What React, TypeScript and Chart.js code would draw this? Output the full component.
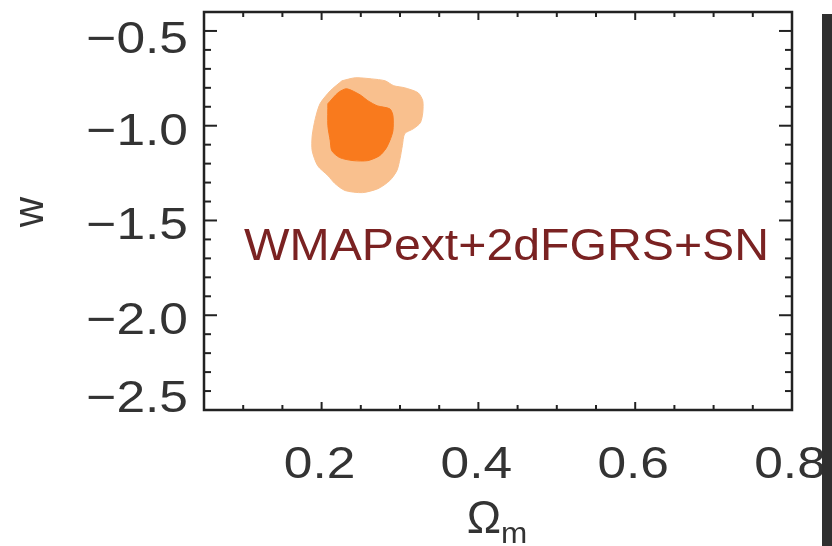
import React, { useEffect, useRef } from "react";
import { Chart, registerables } from "chart.js";

Chart.register(...registerables);

// Axis extents
const X_MIN = 0.05;
const X_MAX = 0.8;
const Y_MIN = -2.5;
const Y_MAX = -0.4;

// Tick values
const xMajorTicks = [0.2, 0.4, 0.6, 0.8];
const xMinorTicks = [0.1, 0.15, 0.25, 0.3, 0.35, 0.45, 0.5, 0.55, 0.65, 0.7, 0.75];
const yMajorTicks = [-0.5, -1.0, -1.5, -2.0, -2.5];
const yMinorTicks = [-0.6, -0.7, -0.8, -0.9, -1.1, -1.2, -1.3, -1.4, -1.6, -1.7, -1.8, -1.9, -2.1, -2.2, -2.3, -2.4];
const xTickLabels = ["0.2", "0.4", "0.6", "0.8"];
const yTickLabels = ["\u22120.5", "\u22121.0", "\u22121.5", "\u22122.0", "\u22122.5"];

// 95% (outer) contour: Omega_m, w
const outerOmega = [0.226, 0.243, 0.264, 0.281, 0.292, 0.306, 0.323, 0.329, 0.329, 0.326, 0.317, 0.306, 0.303, 0.300, 0.296, 0.287, 0.272, 0.252, 0.230, 0.217, 0.208, 0.195, 0.188, 0.188, 0.192, 0.198, 0.211, 0.226];
const outerW = [-0.763, -0.747, -0.753, -0.763, -0.789, -0.800, -0.826, -0.868, -0.932, -0.984, -1.016, -1.042, -1.105, -1.174, -1.237, -1.289, -1.332, -1.353, -1.342, -1.305, -1.263, -1.211, -1.132, -1.053, -0.963, -0.884, -0.816, -0.763];

// 68% (inner) contour: Omega_m, w
const innerOmega = [0.208, 0.221, 0.232, 0.249, 0.259, 0.271, 0.287, 0.291, 0.291, 0.287, 0.282, 0.274, 0.259, 0.240, 0.223, 0.213, 0.211, 0.208, 0.208];
const innerW = [-0.884, -0.826, -0.805, -0.837, -0.868, -0.895, -0.911, -0.947, -1.026, -1.079, -1.121, -1.158, -1.184, -1.184, -1.168, -1.132, -1.079, -1.000, -0.884];

const datasetLabel = "WMAPext+2dFGRS+SN";

const toPoints = (xs: number[], ys: number[]) => xs.map((v, i) => ({ x: v, y: ys[i] }));

const FONT = "'Liberation Sans', Arial, Helvetica, sans-serif";

function stretchText(ctx: CanvasRenderingContext2D, text: string, x: number, y: number, sx: number, align: CanvasTextAlign) {
  ctx.save();
  ctx.translate(x, y);
  ctx.scale(sx, 1);
  ctx.textAlign = align;
  ctx.fillText(text, 0, 0);
  ctx.restore();
}

const overlayPlugin = {
  id: "overlay",
  beforeDraw(chart: any) {
    const { ctx, width, height } = chart;
    ctx.save();
    ctx.fillStyle = "#ffffff";
    ctx.fillRect(0, 0, width, height);
    ctx.restore();
  },
  afterDraw(chart: any) {
    const { ctx, chartArea, scales } = chart;
    const { left, right, top, bottom } = chartArea;
    const xs = scales.x;
    const ys = scales.y;
    ctx.save();
    ctx.strokeStyle = "#222222";
    ctx.lineCap = "butt";
    ctx.lineWidth = 2;
    const hLine = (x1: number, y1: number, x2: number, y2: number) => {
      ctx.beginPath();
      ctx.moveTo(x1, y1);
      ctx.lineTo(x2, y2);
      ctx.stroke();
    };
    xMinorTicks.forEach((v) => {
      const p = xs.getPixelForValue(v);
      hLine(p, bottom, p, bottom - 5);
      hLine(p, top, p, top + 5);
    });
    xMajorTicks.forEach((v) => {
      const p = xs.getPixelForValue(v);
      hLine(p, bottom, p, bottom - 8);
      hLine(p, top, p, top + 8);
    });
    yMinorTicks.forEach((v) => {
      const p = ys.getPixelForValue(v);
      hLine(left, p, left + 7, p);
      hLine(right, p, right - 7, p);
    });
    yMajorTicks.forEach((v) => {
      const p = ys.getPixelForValue(v);
      hLine(left, p, left + 13, p);
      hLine(right, p, right - 13, p);
    });
    ctx.lineWidth = 2.5;
    ctx.strokeRect(left, top, right - left, bottom - top);

    // tick labels
    ctx.fillStyle = "#333333";
    ctx.font = `44px ${FONT}`;
    ctx.textBaseline = "alphabetic";
    yMajorTicks.forEach((v, i) => {
      const p = ys.getPixelForValue(v);
      const c = Math.min(Math.max(p + 3, top + 25), bottom - 14);
      stretchText(ctx, yTickLabels[i], 188, c + 16, 1.17, "right");
    });
    xMajorTicks.forEach((v, i) => {
      const p = xs.getPixelForValue(v);
      stretchText(ctx, xTickLabels[i], p - 2, 478, 1.17, "center");
    });

    // axis titles
    ctx.save();
    ctx.translate(43, 212);
    ctx.rotate(-Math.PI / 2);
    ctx.font = `42px ${FONT}`;
    ctx.textAlign = "center";
    ctx.fillText("w", 0, 0);
    ctx.restore();

    ctx.font = `46px ${FONT}`;
    stretchText(ctx, "\u03A9", 484, 533, 1.0, "center");
    ctx.font = `30px ${FONT}`;
    stretchText(ctx, "m", 501, 543, 1.05, "left");

    // dataset annotation
    ctx.fillStyle = "#7a2222";
    ctx.font = `44px ${FONT}`;
    const w0 = ctx.measureText(datasetLabel).width;
    stretchText(ctx, datasetLabel, 244, 260, 525 / w0, "left");

    // dark margin at the right of the picture
    ctx.fillStyle = "#2f2f2f";
    ctx.fillRect(822, 14, 10, chart.height - 14);
    ctx.restore();
  },
};

export default function App() {
  const ref = useRef<HTMLCanvasElement | null>(null);
  useEffect(() => {
    if (!ref.current) return;
    const chart = new Chart(ref.current, {
      type: "scatter",
      data: {
        datasets: [
          {
            label: "68%",
            data: toPoints(innerOmega, innerW),
            showLine: true,
            fill: "shape",
            backgroundColor: "#f97a1d",
            borderColor: "#f97a1d",
            borderWidth: 1,
            pointRadius: 0,
            tension: 0.25,
          },
          {
            label: "95%",
            data: toPoints(outerOmega, outerW),
            showLine: true,
            fill: "shape",
            backgroundColor: "#f9c08e",
            borderColor: "#f9c08e",
            borderWidth: 1,
            pointRadius: 0,
            tension: 0.25,
          },
        ],
      },
      options: {
        animation: false,
        responsive: false,
        devicePixelRatio: 1,
        layout: { padding: { left: 204, right: 40, top: 12, bottom: 136 } },
        plugins: { legend: { display: false }, tooltip: { enabled: false } },
        scales: {
          x: { type: "linear", min: X_MIN, max: X_MAX, display: false },
          y: { type: "linear", min: Y_MIN, max: Y_MAX, display: false },
        },
      },
      plugins: [overlayPlugin],
    } as any);
    return () => chart.destroy();
  }, []);
  return (
    <div style={{ position: "fixed", left: 0, top: 0, width: 832, height: 546, background: "#fff" }}>
      <canvas ref={ref} width={832} height={546} style={{ display: "block" }} />
    </div>
  );
}
